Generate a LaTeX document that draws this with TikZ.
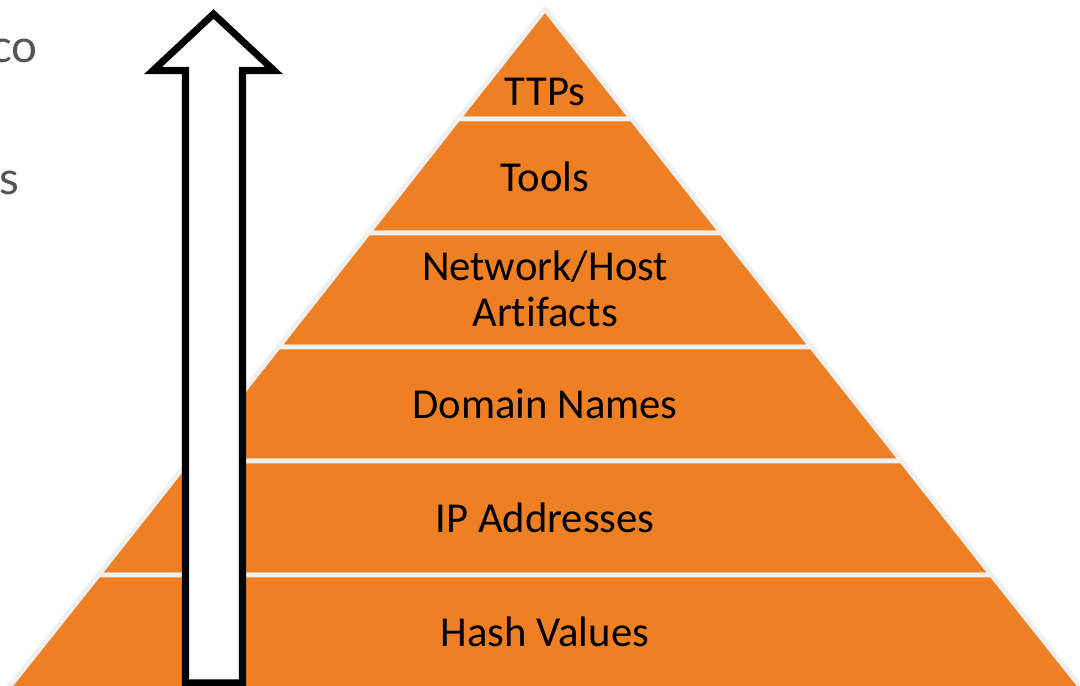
\documentclass[tikz,border=0pt]{standalone}
\usepackage{fontspec}
\setmainfont[Ligatures=NoCommon]{Carlito}
\newfontfamily\sidefont{Lato}
\definecolor{pyorange}{HTML}{EE7F22}
\definecolor{gapgrey}{HTML}{F0F0F0}
\definecolor{sidegrey}{HTML}{555555}
\begin{document}
\begin{tikzpicture}[x=0.02cm,y=-0.02cm,
  band/.style={fill=pyorange,draw=gapgrey,line width=2.8pt,line join=miter},
  lbl/.style={font=\fontsize{24.3}{28}\selectfont,text=black,align=center,inner sep=0pt},
  sidetxt/.style={font=\sidefont\fontsize{26}{30}\selectfont,text=sidegrey,anchor=base east,inner sep=0pt},
  uparrow/.style={fill=white,draw=black,line width=4pt,line join=miter}]
\useasboundingbox (0,0) rectangle (1080,686);
\begin{scope}
\clip (0,0) rectangle (1080,686);
% pyramid bands
\draw[band] (545,9) -- (632.0,119) -- (458.0,119) -- cycle;
\draw[band] (458.0,119) -- (632.0,119) -- (721.7,233) -- (368.3,233) -- cycle;
\draw[band] (368.3,233) -- (721.7,233) -- (811.7,347) -- (278.3,347) -- cycle;
\draw[band] (278.3,347) -- (811.7,347) -- (901.7,461) -- (188.3,461) -- cycle;
\draw[band] (188.3,461) -- (901.7,461) -- (991.6,575) -- (98.4,575) -- cycle;
\draw[band] (98.4,575) -- (991.6,575) -- (1082.3,689) -- (7.7,689) -- cycle;
% labels
\node[lbl] (ttps) at (545,92) {TTPs};
\node[lbl] (tools) at (545,177) {Tools};
\node[lbl] (nha) at (545,289) {Network/Host\\[-2pt]Artifacts};
\node[lbl] (dom) at (545,404) {Domain Names};
\node[lbl] (ip) at (545,518) {IP Addresses};
\node[lbl] (hash) at (545,632) {Hash Values};
% side text
\node[sidetxt] (sideco) at (38,63) {co};
\node[sidetxt] (sides) at (20,195) {s};
% arrow
\draw[uparrow] (185.5,683) -- (185.5,70.5) -- (153,70.5) -- (213.5,14) -- (274,70.5) -- (242.5,70.5) -- (242.5,683) -- cycle;
\end{scope}
\end{tikzpicture}
\end{document}
